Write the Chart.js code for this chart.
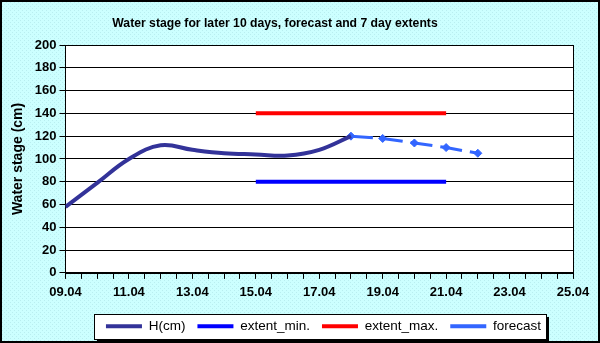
<!DOCTYPE html>
<html>
<head>
<meta charset="utf-8">
<script src="https://cdn.jsdelivr.net/npm/chart.js@4.4.0/dist/chart.umd.min.js"></script>
<style>
  html, body { margin: 0; padding: 0; background: #ccffff; }
  #wrap { width: 600px; height: 343px; position: relative; }
</style>
</head>
<body>
<div id="wrap"><canvas id="chart" width="600" height="343"></canvas></div>
<script>
// day labels on the x axis (index 0 = 09.04)
const dayLabels = ["09.04", "10.04", "11.04", "12.04", "13.04", "14.04", "15.04", "16.04",
  "17.04", "18.04", "19.04", "20.04", "21.04", "22.04", "23.04", "24.04", "25.04"];

// observed stage, 09.04 .. 18.04
const hValues = [58, 79, 100, 112, 108, 105, 104, 103, 108, 120];
// forecast, 18.04 .. 22.04
const forecastStart = 9;
const forecastValues = [120, 118, 114, 110, 105];
// 7 day extents, 15.04 .. 21.04
const extentDays = [6, 12];
const extentMin = [80, 80];
const extentMax = [140, 140];

const yTicks = { min: 0, max: 200, step: 20 };

const toPoints = (vals, start) => vals.map((v, i) => ({ x: start + i, y: v }));
const FONT = "'Liberation Sans', Arial, sans-serif";

const chartBackground = {
  id: "chartBackground",
  afterLayout(chart) {
    // legend sits centred under the plot area, not the whole canvas
    const lg = chart.legend;
    if (lg) {
      lg.left += 33;
      lg.right += 33;
    }
  },
  beforeDraw(chart) {
    const ctx = chart.ctx;
    const w = chart.width, h = chart.height;
    // dotted cyan background
    const pc = document.createElement("canvas");
    pc.width = 4; pc.height = 4;
    const p = pc.getContext("2d");
    p.fillStyle = "#ccffff";
    p.fillRect(0, 0, 4, 4);
    p.fillStyle = "#b9eef0";
    p.fillRect(0, 0, 1, 1);
    p.fillRect(2, 2, 1, 1);
    ctx.save();
    ctx.fillStyle = ctx.createPattern(pc, "repeat");
    ctx.fillRect(0, 0, w, h);
    ctx.strokeStyle = "#000";
    ctx.lineWidth = 2;
    ctx.strokeRect(1, 1, w - 2, h - 2);

    // plot area
    const a = chart.chartArea;
    ctx.fillStyle = "#fff";
    ctx.fillRect(a.left, a.top, a.right - a.left, a.bottom - a.top);
    ctx.strokeStyle = "#000";
    ctx.lineWidth = 1;
    ctx.strokeRect(Math.round(a.left) + 0.5, Math.round(a.top) + 0.5,
      Math.round(a.right - a.left), Math.round(a.bottom - a.top));

    // title
    ctx.fillStyle = "#000";
    ctx.font = "bold 12.2px " + FONT;
    ctx.textAlign = "center";
    ctx.textBaseline = "middle";
    ctx.fillText("Water stage for later 10 days, forecast and 7 day extents", 275, 24);

    // legend frame with shadow
    const x0 = 94, x1 = 546, y0 = 314, y1 = 339;
    ctx.fillStyle = "#000";
    ctx.fillRect(x0 + 3, y0 + 3, x1 - x0, y1 - y0);
    ctx.fillStyle = "#fff";
    ctx.fillRect(x0, y0, x1 - x0, y1 - y0);
    ctx.strokeRect(x0 + 0.5, y0 + 0.5, x1 - x0, y1 - y0);
    ctx.restore();
  }
};

new Chart(document.getElementById("chart"), {
  type: "line",
  data: {
    datasets: [
      {
        label: "H(cm)",
        data: toPoints(hValues, 0),
        borderColor: "#333399",
        backgroundColor: "#333399",
        borderWidth: 4,
        pointRadius: 0,
        tension: 0.4,
      },
      {
        label: "extent_min.",
        data: extentDays.map((d, i) => ({ x: d, y: extentMin[i] })),
        borderColor: "#0000ff",
        backgroundColor: "#0000ff",
        borderWidth: 4,
        pointRadius: 0,
      },
      {
        label: "extent_max.",
        data: extentDays.map((d, i) => ({ x: d, y: extentMax[i] })),
        borderColor: "#ff0000",
        backgroundColor: "#ff0000",
        borderWidth: 4,
        pointRadius: 0,
      },
      {
        label: "forecast",
        data: toPoints(forecastValues, forecastStart),
        borderColor: "#3366ff",
        backgroundColor: "#3366ff",
        borderWidth: 3,
        borderDash: [22, 8],
        pointStyle: "rectRot",
        pointRadius: 4,
        pointBorderWidth: 1,
      },
    ],
  },
  options: {
    responsive: false,
    animation: false,
    layout: { padding: { left: 8, right: 27, top: 45, bottom: 0 } },
    plugins: {
      title: { display: false },
      tooltip: { enabled: false },
      legend: {
        position: "bottom",
        labels: {
          color: "#000",
          font: { family: FONT, size: 13.5 },
          usePointStyle: true,
          pointStyleWidth: 36,
          padding: 12,
          generateLabels(chart) {
            const items = Chart.defaults.plugins.legend.labels.generateLabels(chart);
            items.forEach((it) => {
              it.pointStyle = "line";
              it.lineWidth = 4;
            });
            return items;
          },
        },
      },
    },
    scales: {
      x: {
        type: "linear",
        min: 0,
        max: dayLabels.length - 1,
        grid: { drawOnChartArea: false, color: "#000", tickLength: 6 },
        border: { color: "#000" },
        afterFit(scale) { scale.height += 1; },
        ticks: {
          stepSize: 0.5,
          autoSkip: false,
          maxTicksLimit: 100,
          maxRotation: 0,
          color: "#000",
          padding: 6,
          font: { family: FONT, size: 13, weight: "bold" },
          callback: (v) => (Number.isInteger(v) && v % 2 === 0 ? dayLabels[v] : ""),
        },
      },
      y: {
        min: yTicks.min,
        max: yTicks.max,
        grid: { color: "#000", tickLength: 6 },
        border: { color: "#000" },
        ticks: {
          stepSize: yTicks.step,
          color: "#000",
          padding: 3,
          font: { family: FONT, size: 13, weight: "bold" },
        },
        title: {
          display: true,
          text: "Water stage (cm)",
          color: "#000",
          padding: { top: 2, bottom: 5 },
          font: { family: FONT, size: 14, weight: "bold" },
        },
      },
    },
  },
  plugins: [chartBackground],
});
</script>
</body>
</html>
